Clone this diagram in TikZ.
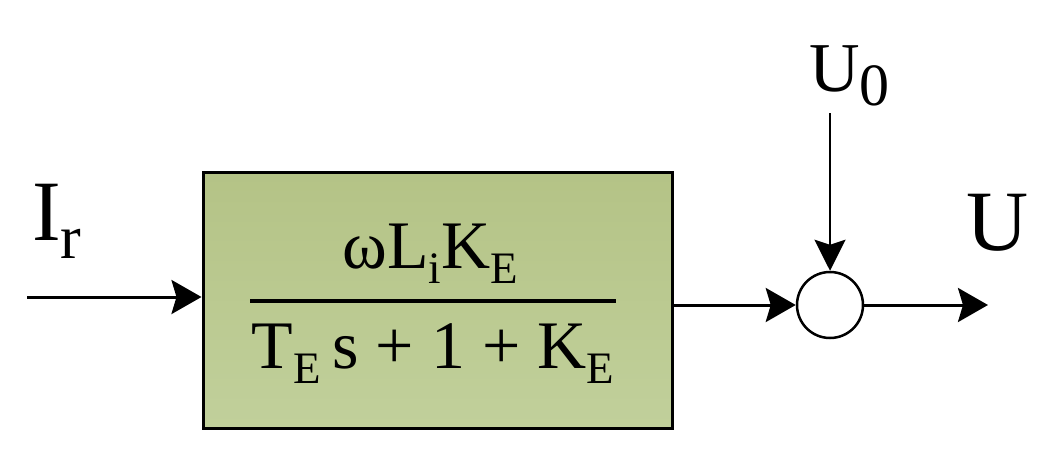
\documentclass[tikz,border=0pt]{standalone}
\usepackage{fontspec}
\setmainfont{Liberation Serif}
\usetikzlibrary{arrows.meta}
\newcommand{\fs}[1]{\fontsize{#1}{#1}\selectfont}
\newcommand{\sbs}[1]{\raisebox{-15pt}{\fs{45}#1}}
\definecolor{boxtop}{HTML}{B4C386}
\definecolor{boxbot}{HTML}{C1D09B}
\tikzset{
  lbl/.style={inner sep=0pt, outer sep=0pt, font=\fs{86}},
  sig/.style={line width=3pt, -{Stealth[length=30pt, width=34pt, inset=5pt]}},
  sigthin/.style={line width=2.5pt, -{Stealth[length=31pt, width=31pt, inset=5pt]}},
  blk/.style={draw, line width=3pt, top color=boxtop, bottom color=boxbot, minimum width=469pt, minimum height=256pt, inner sep=0pt},
  sumnode/.style={draw, circle, line width=2.5pt, fill=white, minimum size=66pt, inner sep=0pt},
}
\begin{document}
\begin{tikzpicture}[x=1pt,y=-1pt]
\useasboundingbox (0,0) rectangle (1045,452);
\node[blk] (box) at (437.5,300) {};
\node[sumnode] (sum) at (830,305) {};
\coordinate (in) at (27,297);
\coordinate (u0) at (830,113);
\coordinate (out) at (988,305);
% fraction
\node[lbl, anchor=base, font=\fs{68}] (num) at (430,268) {ωL\sbs{i}K\sbs{E}};
\node[lbl, anchor=base, font=\fs{68}] (den) at (433,368) {T\sbs{E}\,s + 1 + K\sbs{E}};
\draw[line width=4pt] (250,301) coordinate (fa) -- (616,301) coordinate (fb);
% labels
\node[lbl, anchor=base west] (ir) at (32,240) {I\raisebox{-18pt}{\fs{62}r}};
\node[lbl, anchor=base west, font=\fs{70}] (u0lbl) at (809,92) {U\raisebox{-14pt}{\fs{60}0}};
\node[lbl, anchor=base west] (ulbl) at (966,250) {U};
% connectors
\draw[sig] (in) -- (in -| box.west);
\draw[sig] (box.east |- sum) -- (sum.west);
\draw[sigthin] (u0) -- (sum.north);
\draw[sig] (sum.east) -- (out);
\end{tikzpicture}
\end{document}
